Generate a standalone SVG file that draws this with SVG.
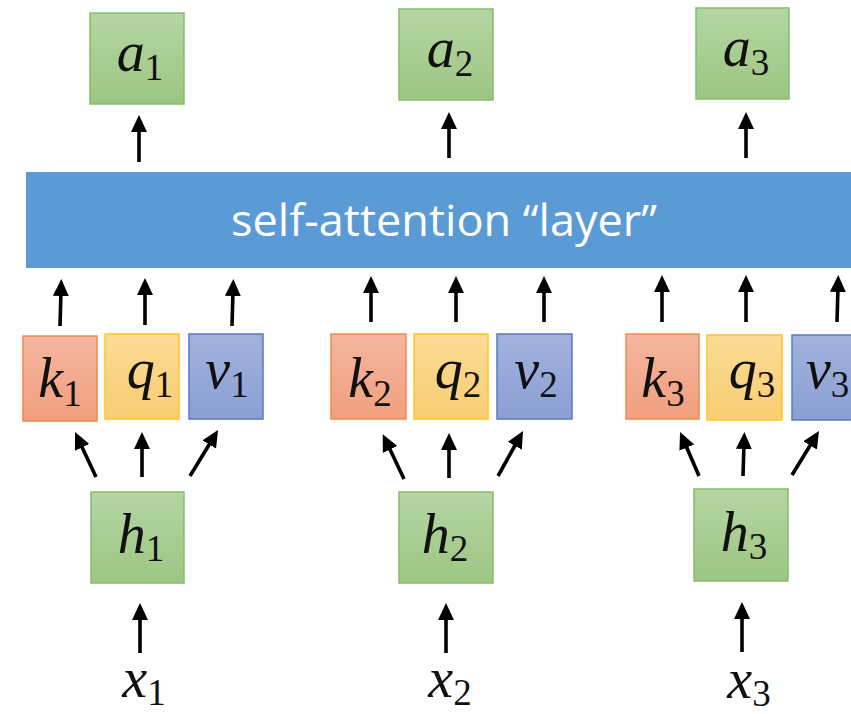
<svg xmlns="http://www.w3.org/2000/svg" width="851" height="714" viewBox="0 0 851 714">
<defs>
<linearGradient id="gGreen" x1="0" y1="0" x2="0" y2="1"><stop offset="0" stop-color="#b5d5a3"/><stop offset="1" stop-color="#9cc682"/></linearGradient>
<linearGradient id="gOrange" x1="0" y1="0" x2="0" y2="1"><stop offset="0" stop-color="#f4b6a0"/><stop offset="1" stop-color="#f29f7d"/></linearGradient>
<linearGradient id="gYellow" x1="0" y1="0" x2="0" y2="1"><stop offset="0" stop-color="#fadb96"/><stop offset="1" stop-color="#f9cd72"/></linearGradient>
<linearGradient id="gBlue" x1="0" y1="0" x2="0" y2="1"><stop offset="0" stop-color="#a2b2dd"/><stop offset="1" stop-color="#8b9fd5"/></linearGradient>
<marker id="ah" markerUnits="userSpaceOnUse" markerWidth="18" markerHeight="16" refX="5" refY="8" orient="auto"><path d="M0,0 L17,8 L0,16 z" fill="#000"/></marker>
</defs>
<style>
.g{fill:url(#gGreen);stroke:#86bb6c;stroke-width:1.5}
.k{fill:url(#gOrange);stroke:#ee8a4e;stroke-width:1.5}
.q{fill:url(#gYellow);stroke:#ffc524;stroke-width:1.5}
.v{fill:url(#gBlue);stroke:#5679c8;stroke-width:1.5}
.m{font-family:"Liberation Serif","Times New Roman",serif;font-style:italic;font-size:56px;fill:#111}
.s{font-family:"Liberation Serif","Times New Roman",serif;font-style:normal;font-size:37px}
.conn line{stroke:#000;stroke-width:3.6;marker-end:url(#ah)}
.bar{fill:#5b9bd5}
.bt{font-family:"Open Sans","Liberation Sans",sans-serif;font-size:43px;fill:#fff}
</style>
<rect width="851" height="714" fill="#fff"/>

<g id="attention-layer">
<rect class="bar" x="26" y="172" width="826" height="96"/>
<text class="bt" x="231" y="236" textLength="426" lengthAdjust="spacingAndGlyphs">self-attention “layer”</text>
</g>

<g id="a1"><rect class="g" x="90" y="13" width="94" height="91"/><text class="m" x="140" y="71" text-anchor="middle">a<tspan class="s" dy="9">1</tspan></text></g>
<g id="a2"><rect class="g" x="399" y="9" width="94" height="91"/><text class="m" x="450" y="67" text-anchor="middle">a<tspan class="s" dy="9">2</tspan></text></g>
<g id="a3"><rect class="g" x="696" y="8" width="93" height="91"/><text class="m" x="746" y="66" text-anchor="middle">a<tspan class="s" dy="9">3</tspan></text></g>

<g id="k1"><rect class="k" x="23" y="336" width="74" height="85"/><text class="m" x="60" y="397" text-anchor="middle">k<tspan class="s" dy="9">1</tspan></text></g>
<g id="q1"><rect class="q" x="105" y="334" width="74" height="85"/><text class="m" x="150" y="388" text-anchor="middle">q<tspan class="s" dy="9">1</tspan></text></g>
<g id="v1"><rect class="v" x="189" y="334" width="74" height="85"/><text class="m" x="227" y="388" text-anchor="middle">v<tspan class="s" dy="9">1</tspan></text></g>

<g id="k2"><rect class="k" x="331" y="334" width="75" height="85"/><text class="m" x="370" y="397" text-anchor="middle">k<tspan class="s" dy="9">2</tspan></text></g>
<g id="q2"><rect class="q" x="414" y="334" width="74" height="85"/><text class="m" x="458" y="388" text-anchor="middle">q<tspan class="s" dy="9">2</tspan></text></g>
<g id="v2"><rect class="v" x="497" y="334" width="75" height="85"/><text class="m" x="536" y="388" text-anchor="middle">v<tspan class="s" dy="9">2</tspan></text></g>

<g id="k3"><rect class="k" x="626" y="334" width="73" height="85"/><text class="m" x="663" y="397" text-anchor="middle">k<tspan class="s" dy="9">3</tspan></text></g>
<g id="q3"><rect class="q" x="707" y="335" width="75" height="85"/><text class="m" x="752" y="388" text-anchor="middle">q<tspan class="s" dy="9">3</tspan></text></g>
<g id="v3"><rect class="v" x="792" y="335" width="70" height="85"/><text class="m" x="806" y="388">v<tspan class="s" dy="9">3</tspan></text></g>

<g id="h1"><rect class="g" x="91" y="492" width="93" height="91"/><text class="m" x="141" y="553" text-anchor="middle">h<tspan class="s" dy="8">1</tspan></text></g>
<g id="h2"><rect class="g" x="399" y="492" width="94" height="91"/><text class="m" x="445" y="553" text-anchor="middle">h<tspan class="s" dy="8">2</tspan></text></g>
<g id="h3"><rect class="g" x="694" y="489" width="94" height="92"/><text class="m" x="744" y="551" text-anchor="middle">h<tspan class="s" dy="8">3</tspan></text></g>

<g id="x1"><text class="m" x="144" y="697" text-anchor="middle">x<tspan class="s" dy="8">1</tspan></text></g>
<g id="x2"><text class="m" x="450" y="697" text-anchor="middle">x<tspan class="s" dy="8">2</tspan></text></g>
<g id="x3"><text class="m" x="749" y="698" text-anchor="middle">x<tspan class="s" dy="8">3</tspan></text></g>

<g id="connectors" class="conn">
<line x1="139" y1="162" x2="139" y2="127"/>
<line x1="449" y1="158" x2="449" y2="124"/>
<line x1="746" y1="158" x2="746" y2="124"/>

<line x1="60" y1="326" x2="61" y2="291"/>
<line x1="145" y1="325" x2="145" y2="290"/>
<line x1="232" y1="326" x2="233" y2="291"/>
<line x1="371" y1="322" x2="371" y2="288"/>
<line x1="456" y1="322" x2="456" y2="288"/>
<line x1="544" y1="322" x2="544" y2="288"/>
<line x1="662" y1="322" x2="662" y2="287"/>
<line x1="746" y1="322" x2="746" y2="287"/>
<line x1="837" y1="322" x2="838" y2="287"/>

<line x1="96" y1="477" x2="80.1" y2="442.9"/>
<line x1="142" y1="477" x2="142" y2="444"/>
<line x1="190" y1="476" x2="211.8" y2="440.2"/>
<line x1="404" y1="479" x2="387.9" y2="445"/>
<line x1="449" y1="478" x2="449" y2="445"/>
<line x1="498" y1="476" x2="517.2" y2="441.5"/>
<line x1="699" y1="476" x2="684.8" y2="443"/>
<line x1="743" y1="476" x2="744" y2="444"/>
<line x1="792" y1="475" x2="812.7" y2="441.2"/>

<line x1="140" y1="653" x2="140" y2="615"/>
<line x1="446" y1="653" x2="446" y2="615"/>
<line x1="742" y1="652" x2="742" y2="614"/>
</g>
</svg>
